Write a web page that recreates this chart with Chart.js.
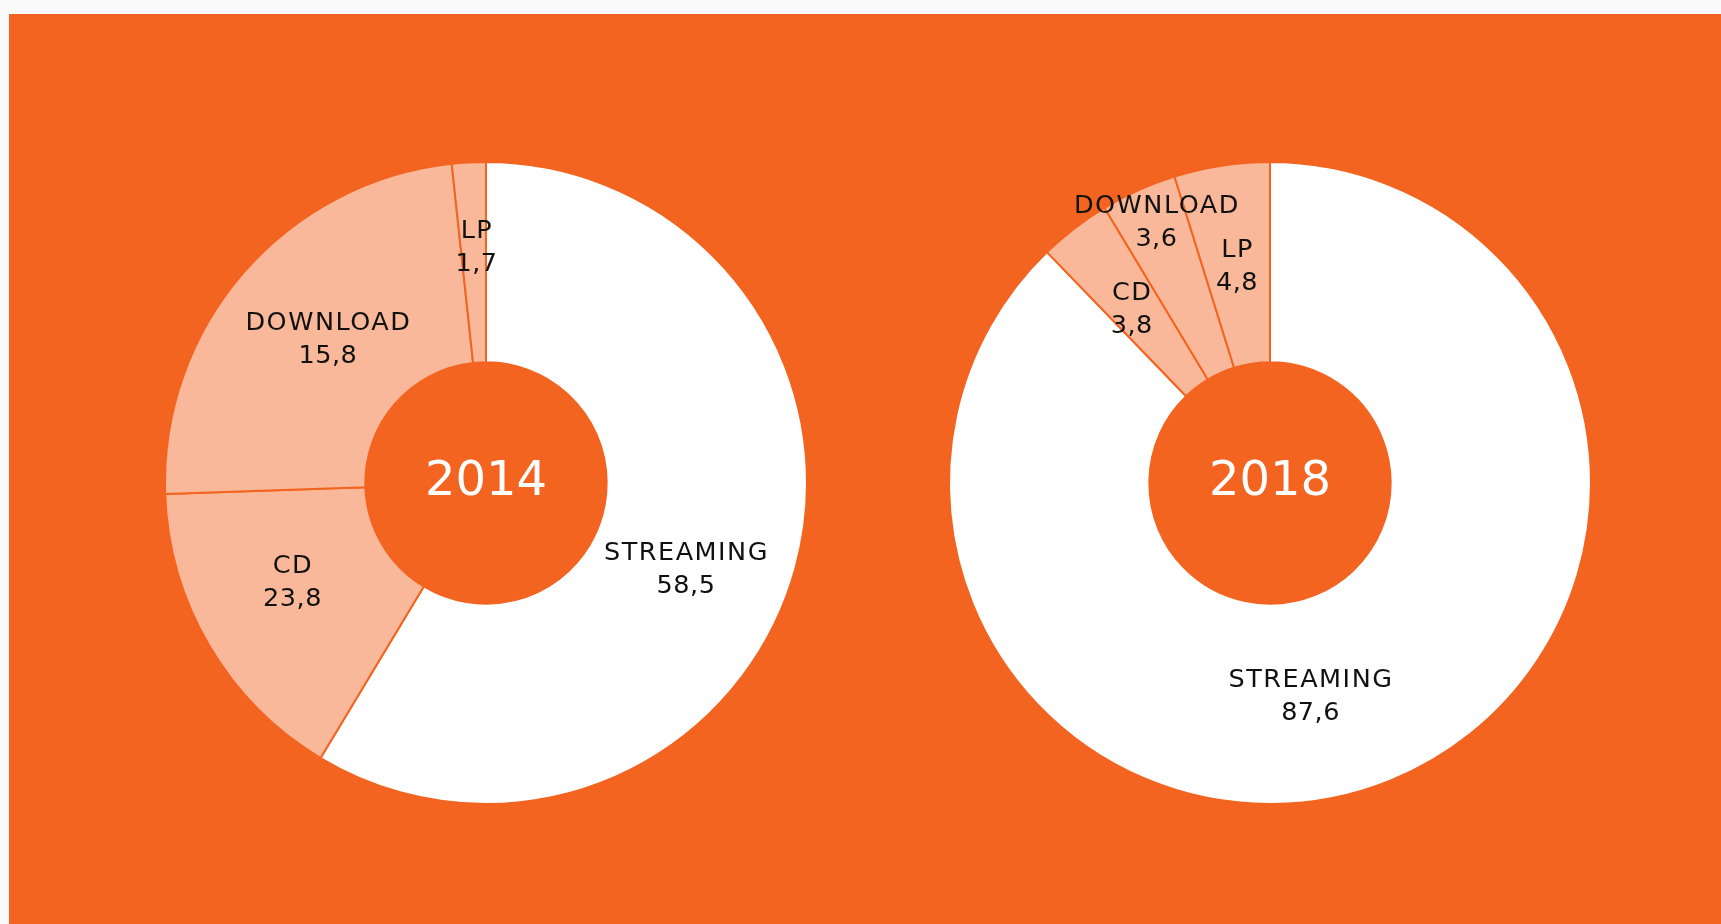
<!DOCTYPE html>
<html lang="da">
<head>
    <meta charset="UTF-8">
    <title>Musiksalg 2014 og 2018</title>
    <script src="https://cdn.jsdelivr.net/npm/chart.js"></script>
    <style>
        body {
            margin: 0;
            padding: 0;
            background: #fafafa;
            width: 1721px;
            height: 924px;
            overflow: hidden;
        }

        /* Orange panel */
        .panel {
            position: absolute;
            left: 9px;
            top: 14px;
            width: 1712px;
            height: 910px;
            background: #f36421;
        }

        .panel canvas {
            position: absolute;
            top: 119px;
        }

        #chart2014 { left: 127px; }
        #chart2018 { left: 911px; }
    </style>
</head>
<body>

    <div class="panel">
        <canvas id="chart2014" width="700" height="700"></canvas>
        <canvas id="chart2018" width="700" height="700"></canvas>
    </div>

    <script>
        // Data
        const categories = ["STREAMING", "CD", "DOWNLOAD", "LP"];

        // printed values (share, %)
        const values2014 = [58.5, 23.8, 15.8, 1.7];
        const values2018 = [87.6, 3.8, 3.6, 4.8];

        // slice sizes as drawn in the original: CD and DOWNLOAD arcs are swapped vs. their labels
        const arcs2014 = [58.5, 15.8, 23.8, 1.7];
        const arcs2018 = [87.6, 3.6, 3.8, 4.8];

        const ORANGE = "#f36421";
        const PEACH = "#f9b899";
        const FONT = "'DejaVu Sans', sans-serif";

        const sliceColors = categories.map(c => c === "STREAMING" ? "#ffffff" : PEACH);

        function fmt(v) {
            return v.toFixed(1).replace(".", ",");
        }

        // Labels at the middle of each ring slice, with small nudges (deg, px)
        const sliceLabels = {
            id: "sliceLabels",
            afterDatasetsDraw(chart, args, opts) {
                const ctx = chart.ctx;
                const arcs = chart.getDatasetMeta(0).data;
                ctx.save();
                ctx.fillStyle = "#111";
                ctx.font = "25.5px " + FONT;
                ctx.textAlign = "center";
                ctx.textBaseline = "middle";
                arcs.forEach((arc, i) => {
                    const p = arc.getProps(["x", "y", "startAngle", "endAngle", "innerRadius", "outerRadius"], true);
                    const nudge = opts.nudge[i] || [0, 0];
                    const a = (p.startAngle + p.endAngle) / 2 + nudge[0] * Math.PI / 180;
                    const r = (p.innerRadius + p.outerRadius) / 2 + nudge[1];
                    const x = p.x + Math.cos(a) * r;
                    const y = p.y + Math.sin(a) * r + 2;
                    ctx.letterSpacing = "1.5px";
                    ctx.fillText(opts.names[i], x + 0.75, y - 16);
                    ctx.letterSpacing = "0.5px";
                    ctx.fillText(fmt(opts.values[i]), x + 0.25, y + 17);
                });
                ctx.restore();
            }
        };

        // Year in the hole
        const centerYear = {
            id: "centerYear",
            afterDraw(chart, args, opts) {
                const ctx = chart.ctx;
                const arc = chart.getDatasetMeta(0).data[0];
                ctx.save();
                ctx.fillStyle = "#ffffff";
                ctx.font = "48px " + FONT;
                ctx.textAlign = "center";
                ctx.textBaseline = "middle";
                ctx.fillText(opts.text, arc.x, arc.y);
                ctx.restore();
            }
        };

        function makeDoughnut(id, year, arcs, values, nudge) {
            return new Chart(document.getElementById(id), {
                type: "doughnut",
                data: {
                    labels: categories,
                    datasets: [{
                        data: arcs,
                        backgroundColor: sliceColors,
                        borderColor: ORANGE,
                        borderWidth: 2
                    }]
                },
                options: {
                    responsive: false,
                    animation: false,
                    events: [],
                    radius: 321,
                    cutout: "37.6%",
                    layout: { padding: 0 },
                    plugins: {
                        legend: { display: false },
                        tooltip: { enabled: false },
                        sliceLabels: { names: categories, values: values, nudge: nudge },
                        centerYear: { text: year }
                    }
                },
                plugins: [sliceLabels, centerYear]
            });
        }

        makeDoughnut("chart2014", "2014", arcs2014, values2014, [[7.4, -4], [3.8, -4], [1.6, -6], [0.7, 17]]);
        makeDoughnut("chart2018", "2018", arcs2018, values2018, [[11.2, -6], [-0.7, 3], [0.7, 65], [0, 0]]);
    </script>
</body>
</html>
